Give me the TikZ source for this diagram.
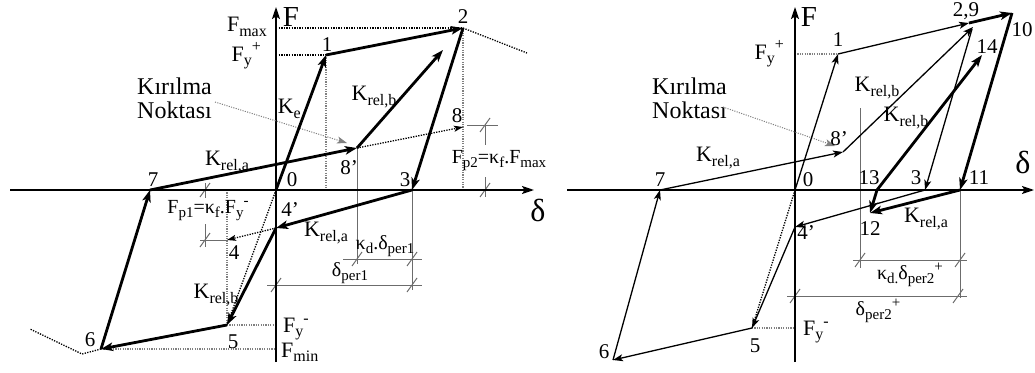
\documentclass[tikz,border=0pt]{standalone}
\usepackage{fontspec}
\setmainfont{Liberation Serif}
\usetikzlibrary{arrows.meta}
\newcommand\fs[1]{\fontsize{#1}{#1}\selectfont}
\newcommand\lo[2][16]{\raisebox{-0.2em}{\fs{#1}#2}}
\newcommand\hi[2][16]{\raisebox{0.42em}{\fs{#1}#2}}
\tikzset{
  axisline/.style={line width=1.8pt,-{Stealth[length=12pt,width=8pt,inset=2.5pt]}},
  thk/.style={line width=2.8pt,-{Stealth[length=12pt,width=8.5pt,inset=3pt]}},
  thn/.style={line width=1.3pt,-{Stealth[length=10pt,width=7pt,inset=2.5pt]}},
  dotl/.style={line width=1.3pt,dash pattern=on 1.3pt off 1.3pt},
  dotarr/.style={dotl,-{Stealth[length=9pt,width=6pt,inset=2pt]}},
  gdot/.style={gray,line width=1.1pt,dash pattern=on 1.1pt off 1.3pt},
  gdim/.style={gray!85!black,line width=0.9pt},
  karr/.style={gray,line width=1pt,dash pattern=on 1.1pt off 1.3pt,-{Stealth[length=10pt,width=7pt,inset=2.5pt]}},
  lbl/.style={inner sep=0pt,font=\fs{21}},
  klbl/.style={inner sep=0pt,font=\fs{22}},
  big/.style={inner sep=0pt,align=left,font=\fontsize{24}{24}\selectfont},
  dimlbl/.style={inner sep=0pt,font=\fs{20}},
  slashmark/.pic={\draw[gdim,line width=1pt] (-5,7) -- (5,-7);},
}
\begin{document}
\begin{tikzpicture}[x=1pt,y=-1pt]
\useasboundingbox (0,0) rectangle (1035,372);

%================ LEFT PANEL ================
\coordinate (LO) at (276,190);
\coordinate (L1) at (326,55);
\coordinate (L2) at (463,28);
\coordinate (L3) at (412,190);
\coordinate (L8p) at (357,148);
\coordinate (L8) at (463,127);
\coordinate (L7) at (150,190);
\coordinate (L4p) at (276,228);
\coordinate (L4) at (227,240);
\coordinate (L5) at (227,325);
\coordinate (L6) at (101,349);
\coordinate (Lb) at (443,50);
\coordinate (Ld1) at (527,53);
\coordinate (Ld2) at (82,354);
\coordinate (Ld3) at (30,329);
\coordinate (LxL) at (10,190);
\coordinate (LxR) at (534,190);
\coordinate (LyB) at (276,362);
\coordinate (LyT) at (276,7);
\coordinate (LaFmax) at (276,28);
\coordinate (LaFy) at (276,55);
\coordinate (La1) at (326,190);
\coordinate (La2) at (463,190);
\coordinate (LaFyn) at (276,325);
\coordinate (LaFmin) at (276,349);
\coordinate (La5) at (227,190);

% dotted guides
\draw[dotl] (LaFmax) -- (L2);
\draw[dotl] (LaFy) -- (L1);
\draw[gdot] (L1) -- (La1);
\draw[gdot] (L2) -- (La2);
\draw[gdot] (La5) -- (L5);
\draw[gdot] (L5) -- (LaFyn);
\draw[gdot] (L6) -- (LaFmin);
\draw[dotl] (L2) -- (Ld1);
\draw[dotl] (L6) -- (Ld2) -- (Ld3);
\draw[dotl] (LO) -- (L5);

% dimension lines
\coordinate (Lk1) at (357,264);
\coordinate (Lk2) at (412,290);
\draw[gdim] (L8p) -- (Lk1);
\draw[gdim] (L3) -- (Lk2);
\draw[gdim] (343,259) -- (422,259);
\draw[gdim] (267,285) -- (422,285);
\pic at (357,259) {slashmark};
\pic at (412,259) {slashmark};
\pic at (276,285) {slashmark};
\pic at (412,285) {slashmark};
\draw[gdim] (467,125) -- (498,125);
\draw[gdim] (485,125) -- (485,145);
\draw[gdim] (485,177) -- (485,197);
\pic at (485,125) {slashmark};
\pic at (485,190) {slashmark};
\draw[gdim] (200,240) -- (227,240);
\draw[gdim] (205,183) -- (205,198);
\draw[gdim] (205,224) -- (205,247);
\pic at (205,190) {slashmark};
\pic at (205,240) {slashmark};

% axes
\draw[axisline] (LxL) -- (LxR);
\draw[axisline] (LyB) -- (LyT);

% Kirilma
\node[big,anchor=west] (LK) at (137,98) {Kırılma\\Noktası};
\coordinate (LKs) at (215,102);
\coordinate (LKe) at (347,143);
\draw[karr] (LKs) -- (LKe);

% dotted arrows
\draw[dotarr] (L8p) -- (L8);
\draw[dotarr] (L4p) -- (L4);

% main path
\draw[thk] (LO) -- (L1);
\draw[thk] (L1) -- (L2);
\draw[thk] (L2) -- (L3);
\draw[thk] (L3) -- (L4p);
\draw[thk] (L4p) -- (L5);
\draw[thk] (L5) -- (L6);
\draw[thk] (L6) -- (L7);
\draw[thk] (L7) -- (L8p);
\draw[thk] (L8p) -- (Lb);

% labels
\node[inner sep=0pt,font=\fs{29}] (LF) at (291,17) {F};
\node[inner sep=0pt,font=\fs{32}] (Ldelta) at (538,210) {δ};
\node[klbl,anchor=east] (LFmax) at (267,27) {F\lo{max}};
\node[klbl,anchor=east] (LFyp) at (261,56) {F\lo{y}\hi{+}};
\node[lbl] (Ln1) at (327,45) {1};
\node[lbl] (Ln2) at (463,17) {2};
\node[lbl] (Ln8) at (457,116) {8};
\node[lbl] (Ln8p) at (349,168) {8’};
\node[lbl] (Ln3) at (405,180) {3};
\node[lbl] (Ln7) at (153,180) {7};
\node[lbl] (Ln0) at (292,180) {0};
\node[lbl] (Ln4p) at (290,210) {4’};
\node[lbl] (Ln4) at (234,253) {4};
\node[lbl] (Ln5) at (233,342) {5};
\node[lbl] (Ln6) at (90,340) {6};
\node[klbl,anchor=east] (LKe) at (301,109) {K\lo{e}};
\node[klbl] (LKrb) at (374,97) {K\lo{rel,b}};
\node[klbl] (LKra) at (227,162) {K\lo{rel,a}};
\node[klbl] (LKra2) at (326,233) {K\lo{rel,a}};
\node[klbl] (LKrb2) at (216,295) {K\lo{rel,b}};
\node[klbl,anchor=west] (LFyn) at (283,329) {F\lo{y}\hi{-}};
\node[klbl,anchor=west] (LFmin) at (281,352) {F\lo{min}};
\node[dimlbl] (LFp2) at (499,161) {F\lo[15]{p2}=κ\lo[15]{f}.F\lo[15]{max}};
\node[dimlbl] (LFp1) at (208,211) {F\lo[15]{p1}=κ\lo[15]{f}.F\lo[15]{y}\hi[15]{-}};
\node[dimlbl] (Lkd) at (385,246) {κ\lo[15]{d}.δ\lo[15]{per1}};
\node[dimlbl] (Ldp) at (350,273) {δ\lo[15]{per1}};

%================ RIGHT PANEL ================
\coordinate (RO) at (795,190);
\coordinate (R1) at (838,54);
\coordinate (R29) at (969,23);
\coordinate (R29b) at (973,27);
\coordinate (R29c) at (972,29);
\coordinate (R10) at (1012,13);
\coordinate (R14) at (982,55);
\coordinate (R13) at (877,190);
\coordinate (R3) at (925,190);
\coordinate (R11) at (960,190);
\coordinate (R12) at (870,213);
\coordinate (R8p) at (843,152);
\coordinate (R7) at (660,190);
\coordinate (R4p) at (795,227);
\coordinate (R5) at (752,328);
\coordinate (R6) at (613,360);
\coordinate (RxL) at (567,190);
\coordinate (RxR) at (1034,190);
\coordinate (RyB) at (795,362);
\coordinate (RyT) at (795,7);
\coordinate (RaFy) at (795,54);
\coordinate (RaFyn) at (795,328);

% dotted guides
\draw[gdot] (RaFy) -- (R1);
\draw[gdot] (R5) -- (RaFyn);
\draw[dotl] (RO) -- (R5);

% dimension lines
\coordinate (Rv1a) at (860,108);
\coordinate (Rv1b) at (860,268);
\coordinate (Rv2) at (960,298);
\draw[gdim] (Rv1a) -- (Rv1b);
\draw[gdim] (R11) -- (Rv2);
\draw[gdim] (853,260) -- (967,260);
\draw[gdim] (787,296) -- (967,296);
\pic at (860,260) {slashmark};
\pic at (960,260) {slashmark};
\pic at (795,296) {slashmark};
\pic at (958,296) {slashmark};

% axes
\draw[axisline] (RxL) -- (RxR);
\draw[axisline] (RyB) -- (RyT);

% Kirilma
\node[big,anchor=west] (RK) at (652,98) {Kırılma\\Noktası};
\coordinate (RKs) at (723,107);
\coordinate (RKe) at (835,146);
\draw[karr] (RKs) -- (RKe);

% thin path
\draw[thn] (RO) -- (R1);
\draw[thn] (R1) -- (R29);
\draw[thn] (R7) -- (R8p);
\draw[thn] (R8p) -- (R29b);
\draw[thn] (R29c) -- (R3);
\draw[thn] (R3) -- (R4p);
\draw[thn] (R4p) -- (R5);
\draw[thn] (R5) -- (R6);
\draw[thn] (R6) -- (R7);

% thick path
\draw[thk] (R29) -- (R10);
\draw[thk] (R10) -- (R11);
\draw[thk] (R11) -- (R12);
\draw[thk] (R13) -- (R12);
\draw[thk] (R13) -- (R14);

% labels
\node[inner sep=0pt,font=\fs{29}] (RF) at (809,17) {F};
\node[inner sep=0pt,font=\fs{32}] (Rdelta) at (1023,162) {δ};
\node[klbl,anchor=east] (RFyp) at (784,54) {F\lo{y}\hi{+}};
\node[klbl,anchor=west] (RFyn) at (803,332) {F\lo{y}\hi{-}};
\node[lbl] (Rn1) at (838,40) {1};
\node[lbl] (Rn29) at (966,11) {2,9};
\node[lbl] (Rn10) at (1022,30) {10};
\node[lbl] (Rn14) at (987,47) {14};
\node[lbl] (Rn8p) at (839,139) {8’};
\node[lbl] (Rn0) at (808,180) {0};
\node[lbl] (Rn7) at (660,180) {7};
\node[lbl] (Rn13) at (869,178) {13};
\node[lbl] (Rn3) at (916,178) {3};
\node[lbl] (Rn11) at (979,178) {11};
\node[lbl] (Rn4p) at (806,233) {4’};
\node[lbl] (Rn12) at (870,229) {12};
\node[lbl] (Rn5) at (755,346) {5};
\node[lbl] (Rn6) at (604,352) {6};
\node[klbl] (RKrb1) at (877,88) {K\lo{rel,b}};
\node[klbl] (RKrb2) at (906,118) {K\lo{rel,b}};
\node[klbl] (RKra1) at (718,158) {K\lo{rel,a}};
\node[klbl] (RKra2) at (926,219) {K\lo{rel,a}};
\node[dimlbl] (Rkd) at (910,275) {κ\lo[15]{d.}δ\lo[15]{per2}\hi[15]{+}};
\node[dimlbl] (Rdp) at (878,311) {δ\lo[15]{per2}\hi[15]{+}};
\end{tikzpicture}
\end{document}
